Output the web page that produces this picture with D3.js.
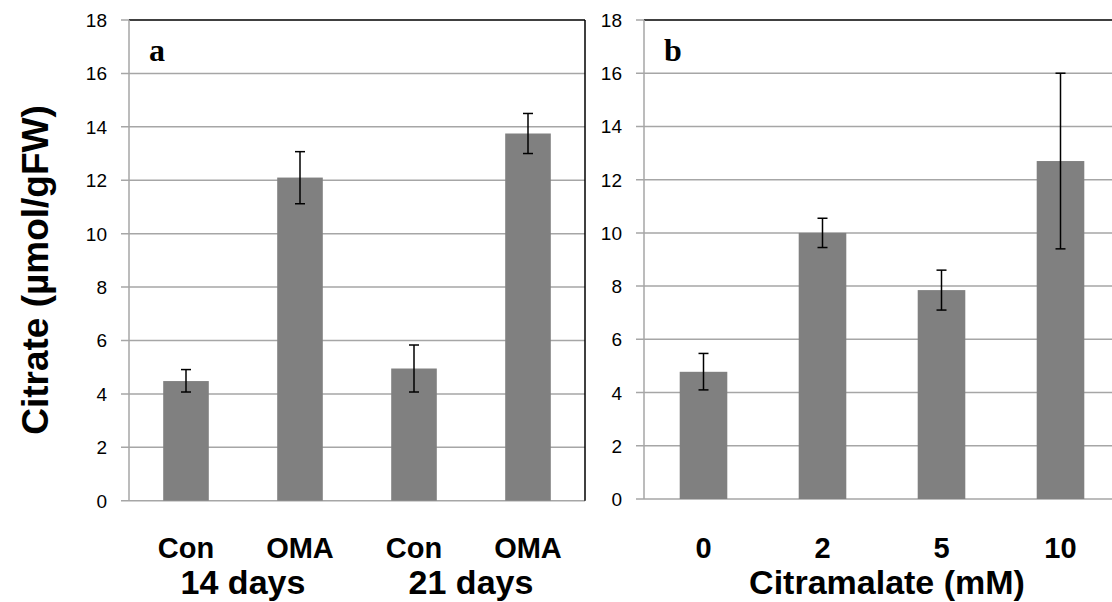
<!DOCTYPE html>
<html>
<head>
<meta charset="utf-8">
<script src="https://cdn.jsdelivr.net/npm/d3@7"></script>
<style>
  body { margin: 0; background: #fff; }
</style>
</head>
<body>
<div id="container"></div>
<script>
// panel a
let catsA = ["Con", "OMA", "Con", "OMA"];
let valsA = [4.48, 12.1, 4.95, 13.75];
let lowA  = [4.07, 11.12, 4.07, 13.0];
let highA = [4.91, 13.07, 5.83, 14.5];
let groupsA = ["14 days", "21 days"];

// panel b
let catsB = ["0", "2", "5", "10"];
let valsB = [4.78, 10.0, 7.85, 12.7];
let lowB  = [4.1, 9.45, 7.1, 9.4];
let highB = [5.47, 10.55, 8.6, 16.0];

let yTicks = [0, 2, 4, 6, 8, 10, 12, 14, 16, 18];

let w = 1112;
let h = 602;

let viz = d3.select("#container")
  .append("svg")
    .attr("width", w)
    .attr("height", h)
    .style("display", "block")
;

function drawPanel(left, right, top, bottom, cats, vals, low, high, letter, rightBorder){
  let g = viz.append("g");
  // categories repeat ("Con", "OMA" twice), so the band scale runs on indices
  let xScale = d3.scaleBand().domain(d3.range(cats.length)).range([left, right]).paddingInner(0.6).paddingOuter(0.3);
  let yScale = d3.scaleLinear().domain([0, 18]).range([bottom, top]);
  let grey = "#a6a6a6";

  // gridlines (with the little tick stub on the left)
  g.selectAll(".grid").data(yTicks.slice(0, -1)).enter()
    .append("line")
      .attr("x1", left - 8).attr("x2", right)
      .attr("y1", d => yScale(d)).attr("y2", d => yScale(d))
      .attr("stroke", grey).attr("stroke-width", 1.5);
  // top border
  g.append("line").attr("x1", left - 8).attr("x2", left)
    .attr("y1", yScale(18)).attr("y2", yScale(18))
    .attr("stroke", grey).attr("stroke-width", 1.5);
  g.append("line").attr("x1", left).attr("x2", right)
    .attr("y1", yScale(18)).attr("y2", yScale(18))
    .attr("stroke", "#000").attr("stroke-width", 1.5);
  if (rightBorder) {
    g.append("line").attr("x1", right).attr("x2", right)
      .attr("y1", yScale(18)).attr("y2", yScale(0))
      .attr("stroke", "#000").attr("stroke-width", 1.5);
  }
  // left axis
  g.append("line").attr("x1", left).attr("x2", left)
    .attr("y1", yScale(18)).attr("y2", yScale(0))
    .attr("stroke", grey).attr("stroke-width", 1.5);

  g.selectAll(".ytl").data(yTicks).enter()
    .append("text")
      .attr("x", left - 22)
      .attr("y", d => yScale(d) + 7)
      .attr("text-anchor", "end")
      .style("font-family", "Liberation Sans, Arial, sans-serif")
      .style("font-size", "19px")
      .text(d => d);

  // bars
  g.selectAll(".bar").data(vals).enter()
    .append("rect")
      .attr("x", (d, i) => xScale(i))
      .attr("y", d => yScale(d))
      .attr("width", xScale.bandwidth())
      .attr("height", d => yScale(0) - yScale(d))
      .attr("fill", "#808080");

  // error bars
  let errs = g.selectAll(".err").data(vals).enter().append("g")
    .attr("transform", (d, i) => "translate(" + (xScale(i) + xScale.bandwidth() / 2) + ",0)");
  errs.append("line")
    .attr("y1", (d, i) => yScale(low[i])).attr("y2", (d, i) => yScale(high[i]))
    .attr("stroke", "#000").attr("stroke-width", 1.5);
  errs.append("line").attr("x1", -5).attr("x2", 5)
    .attr("y1", (d, i) => yScale(low[i])).attr("y2", (d, i) => yScale(low[i]))
    .attr("stroke", "#000").attr("stroke-width", 1.5);
  errs.append("line").attr("x1", -5).attr("x2", 5)
    .attr("y1", (d, i) => yScale(high[i])).attr("y2", (d, i) => yScale(high[i]))
    .attr("stroke", "#000").attr("stroke-width", 1.5);

  // category labels
  g.selectAll(".xtl").data(cats).enter()
    .append("text")
      .attr("x", (d, i) => xScale(i) + xScale.bandwidth() / 2)
      .attr("y", 558)
      .attr("text-anchor", "middle")
      .style("font-family", "Liberation Sans, Arial, sans-serif")
      .style("font-size", "29px")
      .style("font-weight", "bold")
      .text(d => d);

  // panel letter
  g.append("text")
    .attr("x", left + 20)
    .attr("y", yScale(18) + 41)
    .style("font-family", "Liberation Serif, Times New Roman, serif")
    .style("font-size", "32px")
    .style("font-weight", "bold")
    .text(letter);

  return xScale;
}

let xA = drawPanel(129, 585, 20, 500.7, catsA, valsA, lowA, highA, "a", true);
let xB = drawPanel(644, 1120, 20, 499, catsB, valsB, lowB, highB, "b", false);

// group labels under panel a
let groupCenters = [
  (xA(0) + xA(1) + xA.bandwidth()) / 2,
  (xA(2) + xA(3) + xA.bandwidth()) / 2
];
viz.selectAll(".grp").data(groupsA).enter()
  .append("text")
    .attr("x", (d, i) => groupCenters[i])
    .attr("y", 594)
    .attr("text-anchor", "middle")
    .style("font-family", "Liberation Sans, Arial, sans-serif")
    .style("font-size", "34px")
    .style("font-weight", "bold")
    .text(d => d);

viz.append("text")
  .attr("x", 887)
  .attr("y", 594)
  .attr("text-anchor", "middle")
  .style("font-family", "Liberation Sans, Arial, sans-serif")
  .style("font-size", "34px")
  .style("font-weight", "bold")
  .text("Citramalate (mM)");

viz.append("text")
  .attr("transform", "translate(48,270) rotate(-90)")
  .attr("text-anchor", "middle")
  .style("font-family", "Liberation Sans, Arial, sans-serif")
  .style("font-size", "37px")
  .style("font-weight", "bold")
  .text("Citrate (µmol/gFW)");
</script>
</body>
</html>
